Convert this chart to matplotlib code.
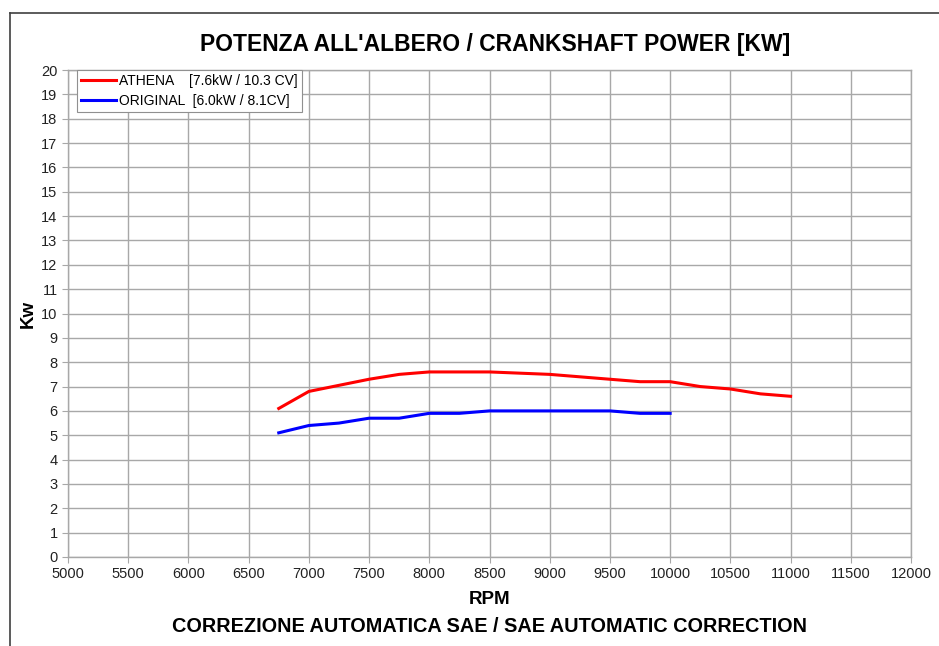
import matplotlib as mpl
import matplotlib.pyplot as plt
from matplotlib.lines import Line2D

mpl.rcParams.update({
    "font.family": ["Liberation Sans", "DejaVu Sans"],
    "font.size": 10.5,
})

# --- Data ---
rpm_athena = [6750, 7000, 7250, 7500, 7750, 8000, 8250, 8500, 8750, 9000,
              9250, 9500, 9750, 10000, 10250, 10500, 10750, 11000]
kw_athena = [6.1, 6.8, 7.05, 7.3, 7.5, 7.6, 7.6, 7.6, 7.55, 7.5,
             7.4, 7.3, 7.2, 7.2, 7.0, 6.9, 6.7, 6.6]

rpm_orig = [6750, 7000, 7250, 7500, 7750, 8000, 8250, 8500, 8750, 9000,
            9250, 9500, 9750, 10000]
kw_orig = [5.1, 5.4, 5.5, 5.7, 5.7, 5.9, 5.9, 6.0, 6.0, 6.0,
           6.0, 6.0, 5.9, 5.9]

label_athena = "ATHENA    [7.6kW / 10.3 CV]"
label_orig = "ORIGINAL  [6.0kW / 8.1CV]"

fig = plt.figure(figsize=(9.39, 6.46), dpi=100)
ax = fig.add_axes([68 / 939, 1 - 557 / 646, (911 - 68) / 939, (557 - 70) / 646])

ax.plot(rpm_athena, kw_athena, color="#ff0000", linewidth=2.2, label=label_athena)
ax.plot(rpm_orig, kw_orig, color="#0000ff", linewidth=2.2, label=label_orig)

ax.set_xlim(5000, 12000)
ax.set_ylim(0, 20)
ax.set_xticks(range(5000, 12001, 500))
ax.set_yticks(range(0, 21))
ax.grid(True, color="#a8a8a8", linewidth=1.0)
ax.set_axisbelow(True)
for s in ax.spines.values():
    s.set_color("#a8a8a8")
    s.set_linewidth(1.0)
ax.tick_params(colors="#a8a8a8", labelcolor="#222222", labelsize=10.5, length=4, width=0.8)

ax.set_xlabel("RPM", fontsize=13.5, fontweight="bold", labelpad=7)
ax.set_ylabel("Kw", fontsize=13.5, fontweight="bold", labelpad=3)

leg = ax.legend(loc="upper left", bbox_to_anchor=(0.0105, 1.0), fontsize=10,
                fancybox=False, framealpha=1, edgecolor="#909090",
                handlelength=2.5, handletextpad=0.25, borderpad=0.3,
                labelspacing=0.4, borderaxespad=0)
leg.get_frame().set_linewidth(0.8)

fig.text(495 / 939, 1 - 45 / 646, "POTENZA ALL'ALBERO / CRANKSHAFT POWER [KW]",
         ha="center", va="center", fontsize=16.5, fontweight="bold")
fig.text(489 / 939, 1 - 627 / 646, "CORREZIONE AUTOMATICA SAE / SAE AUTOMATIC CORRECTION",
         ha="center", va="center", fontsize=14.3, fontweight="bold")

# outer frame (left and top edges visible)
fig.add_artist(Line2D([10 / 939, 10 / 939], [0, 1 - 13 / 646],
                      transform=fig.transFigure, color="#404040", linewidth=1.2))
fig.add_artist(Line2D([10 / 939, 1], [1 - 13 / 646, 1 - 13 / 646],
                      transform=fig.transFigure, color="#404040", linewidth=1.2))

fig.savefig("out.png", dpi=100)
